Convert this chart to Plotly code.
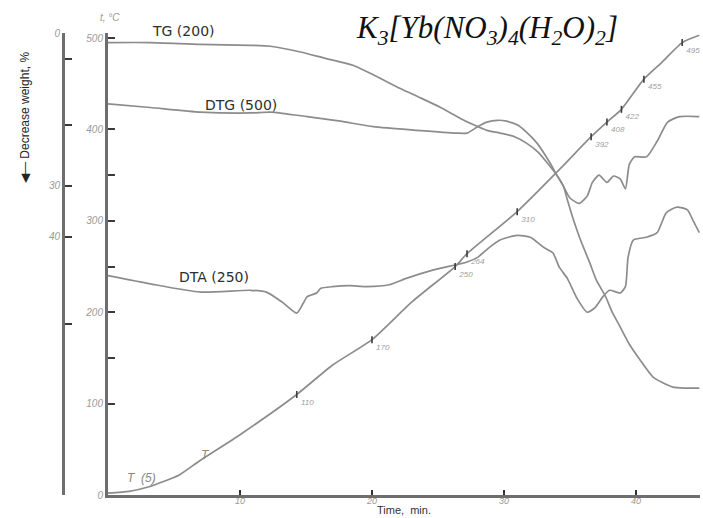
import plotly.graph_objects as go

# Time axis (min) and curve readings; TG, DTG and DTA share the temperature scale
tg_t = [0, 3.2, 7.0, 10.8, 12.3, 14.5, 16.4, 18.6, 20.2, 22.1, 23.6, 25.2, 26.7, 27.7, 28.7,
        29.7, 30.8, 31.7, 32.6, 33.3, 33.9, 34.5, 34.8, 35.2, 35.8, 36.5, 37.0, 37.7, 38.2,
        38.8, 39.5, 40.3, 41.3, 42.0, 42.8, 43.7, 44.8]
tg_v = [495, 495, 493, 492, 491, 485, 478, 470, 459, 445, 435, 424, 412, 405, 399,
        396, 392, 385, 375, 363, 352, 338, 323, 304, 279, 254, 235, 217, 200,
        184, 165, 148, 129, 123, 118, 117, 117]

dtg_t = [0, 3.2, 7.0, 10.8, 12.3, 15.1, 17.6, 20.1, 23.4, 26.4, 27.2, 28.0, 28.7, 29.5,
         30.2, 31.0, 31.7, 32.5, 33.5, 34.0, 34.5, 35.0, 35.7, 36.3, 36.7, 37.2, 37.8,
         38.3, 38.8, 39.2, 39.5, 39.9, 40.8, 41.6, 42.4, 43.3, 44.8]
dtg_v = [428, 424, 419, 418, 419, 414, 409, 403, 399, 396, 396, 403, 408, 410,
         409, 405, 397, 385, 363, 350, 338, 325, 319, 327, 342, 350, 342,
         349, 346, 335, 362, 370, 370, 387, 408, 414, 414]

dta_t = [0, 3.2, 7.0, 10.8, 12.0, 13.2, 14.3, 14.8, 15.1, 15.8, 16.1, 17.0, 18.3, 19.6,
         21.3, 22.6, 24.6, 27.2, 28.0, 28.9, 29.7, 31.0, 32.0, 33.0, 33.7, 34.2, 34.8,
         35.5, 36.3, 36.9, 37.5, 38.0, 38.8, 39.2, 39.4, 39.8, 40.8, 41.6, 42.3, 43.1,
         43.9, 44.3, 44.8]
dta_v = [240, 231, 222, 224, 222, 211, 199, 210, 217, 221, 226, 228, 229, 228,
         230, 237, 246, 255, 260, 271, 279, 284, 282, 271, 265, 249, 237,
         216, 200, 205, 217, 224, 221, 228, 260, 279, 282, 287, 309, 315,
         312, 301, 287]

# Furnace temperature T (deg C)
temp_t = [0, 1.6, 3.1, 5.4, 6.9, 10.0, 14.3, 17.0, 20.0, 23.0, 26.3, 27.2, 31.0,
          34.4, 36.6, 37.8, 38.9, 40.6, 42.0, 43.5, 44.8]
temp_v = [2, 4, 9, 22, 37, 66, 110, 142, 170, 211, 250, 264, 310,
          359, 392, 408, 422, 455, 474, 495, 503]

# Marked points on the T curve
mark_t = [14.3, 20.0, 26.3, 27.2, 31.0, 36.6, 37.8, 38.9, 40.6, 43.5]
mark_v = [110, 170, 250, 264, 310, 392, 408, 422, 455, 495]

# Axis ticks
time_ticks = [10, 20, 30, 40]
temp_ticks = [0, 100, 200, 300, 400, 500]
temp_minor = [150, 250, 350]
loss_ticks = [0, 30, 40]
loss_minor = [5, 18, 57]

CURVE = "#8c8c8c"
AXIS = "#6e6e6e"
TICKLBL = "#9a9a9a"

fig = go.Figure()
for xs, ys in [(tg_t, tg_v), (dtg_t, dtg_v), (dta_t, dta_v), (temp_t, temp_v)]:
    fig.add_trace(go.Scatter(x=xs, y=ys, mode="lines",
                             line=dict(color=CURVE, width=1.7, shape="spline", smoothing=0.6),
                             hoverinfo="skip"))

# temperature marks on the T curve, each labelled with its value
fig.add_trace(go.Scatter(x=mark_t, y=mark_v, mode="markers+text",
                         text=[str(v) for v in mark_v], textposition="bottom right",
                         textfont=dict(family="Liberation Sans", size=8, color="#a0a0a0",
                                       style="italic"),
                         marker=dict(symbol="line-ns", size=5,
                                     line=dict(color="#3c3c3c", width=1.6)),
                         cliponaxis=False, hoverinfo="skip"))

# dummy trace so the weight-loss axis is drawn
fig.add_trace(go.Scatter(x=[0], y=[0], yaxis="y2", mode="markers",
                         marker=dict(opacity=0), hoverinfo="skip"))

H = 462.0
def px(xp):
    return xp / 700.0
def py(yp):
    return (495.0 - yp) / H

annotations = []
curve_font = dict(family="DejaVu Sans", size=14, color="#2e2e2e")
for x, y, txt in [(183, 31, "TG (200)"), (241, 105, "DTG (500)"), (214, 277, "DTA (250)")]:
    annotations.append(dict(x=px(x), y=py(y), xref="paper", yref="paper", text=txt,
                            showarrow=False, font=curve_font,
                            xanchor="center", yanchor="middle"))

annotations += [
    dict(x=px(487), y=py(30), xref="paper", yref="paper", showarrow=False,
         text="<i>K<sub>3</sub>[Yb(NO<sub>3</sub>)<sub>4</sub>(H<sub>2</sub>O)<sub>2</sub>]</i>",
         font=dict(family="Liberation Serif", size=31, color="#111111"),
         xanchor="center", yanchor="middle"),
    dict(x=px(110), y=py(18), xref="paper", yref="paper", showarrow=False,
         text="<i>t, °C</i>", font=dict(family="Liberation Sans", size=10, color=TICKLBL),
         xanchor="center", yanchor="middle"),
    dict(x=px(25), y=py(118), xref="paper", yref="paper", showarrow=False,
         text="◀— Decrease weight, %", textangle=-90,
         font=dict(family="Liberation Sans", size=12, color="#262626"),
         xanchor="center", yanchor="middle"),
    dict(x=px(205), y=py(455), xref="paper", yref="paper", showarrow=False,
         text="<i>T</i>", font=dict(family="Liberation Sans", size=12, color="#888888"),
         xanchor="center", yanchor="middle"),
    dict(x=px(141), y=py(478), xref="paper", yref="paper", showarrow=False,
         text="<i>T  (5)</i>", font=dict(family="Liberation Sans", size=12, color="#888888"),
         xanchor="center", yanchor="middle"),
    dict(x=px(404), y=py(518), xref="paper", yref="paper", showarrow=False,
         text="Time,  min.", font=dict(family="Liberation Sans", size=11, color="#333333"),
         xanchor="center", yanchor="bottom"),
]

tickfont = dict(family="Liberation Sans", size=9, color=TICKLBL, style="italic")
minor_y = dict(ticks="inside", ticklen=7, tickwidth=2, tickcolor="#3a3a3a", showgrid=False)

fig.update_layout(
    width=703, height=518,
    margin=dict(l=0, r=3, t=33, b=23, autoexpand=False),
    plot_bgcolor="white", paper_bgcolor="white",
    showlegend=False,
    xaxis=dict(domain=[108 / 700, 1], range=[0, 44.85], showline=True, linecolor=AXIS,
               linewidth=2.5, ticks="inside", tickvals=time_ticks, ticklen=5, tickwidth=2,
               tickcolor="#333333", showgrid=False, zeroline=False, tickfont=tickfont,
               ticklabelstandoff=-5, automargin=False),
    yaxis=dict(range=[0, 505.5], showline=True, linecolor=AXIS, linewidth=3,
               ticks="inside", tickvals=temp_ticks, ticklen=7,
               tickwidth=2, tickcolor="#3a3a3a", showgrid=False, zeroline=False,
               tickfont=dict(tickfont, size=10), automargin=False,
               minor=dict(minor_y, tickvals=temp_minor)),
    yaxis2=dict(overlaying="y", anchor="free", position=63 / 700, side="left",
                range=[90.6, 0], showline=True, linecolor=AXIS, linewidth=3,
                ticks="inside", tickvals=loss_ticks, ticklen=7,
                tickwidth=2, tickcolor="#3a3a3a", showgrid=False, zeroline=False,
                tickfont=dict(tickfont, size=10), automargin=False,
                minor=dict(minor_y, tickvals=loss_minor)),
    annotations=annotations,
)

fig.write_html("out.html")
